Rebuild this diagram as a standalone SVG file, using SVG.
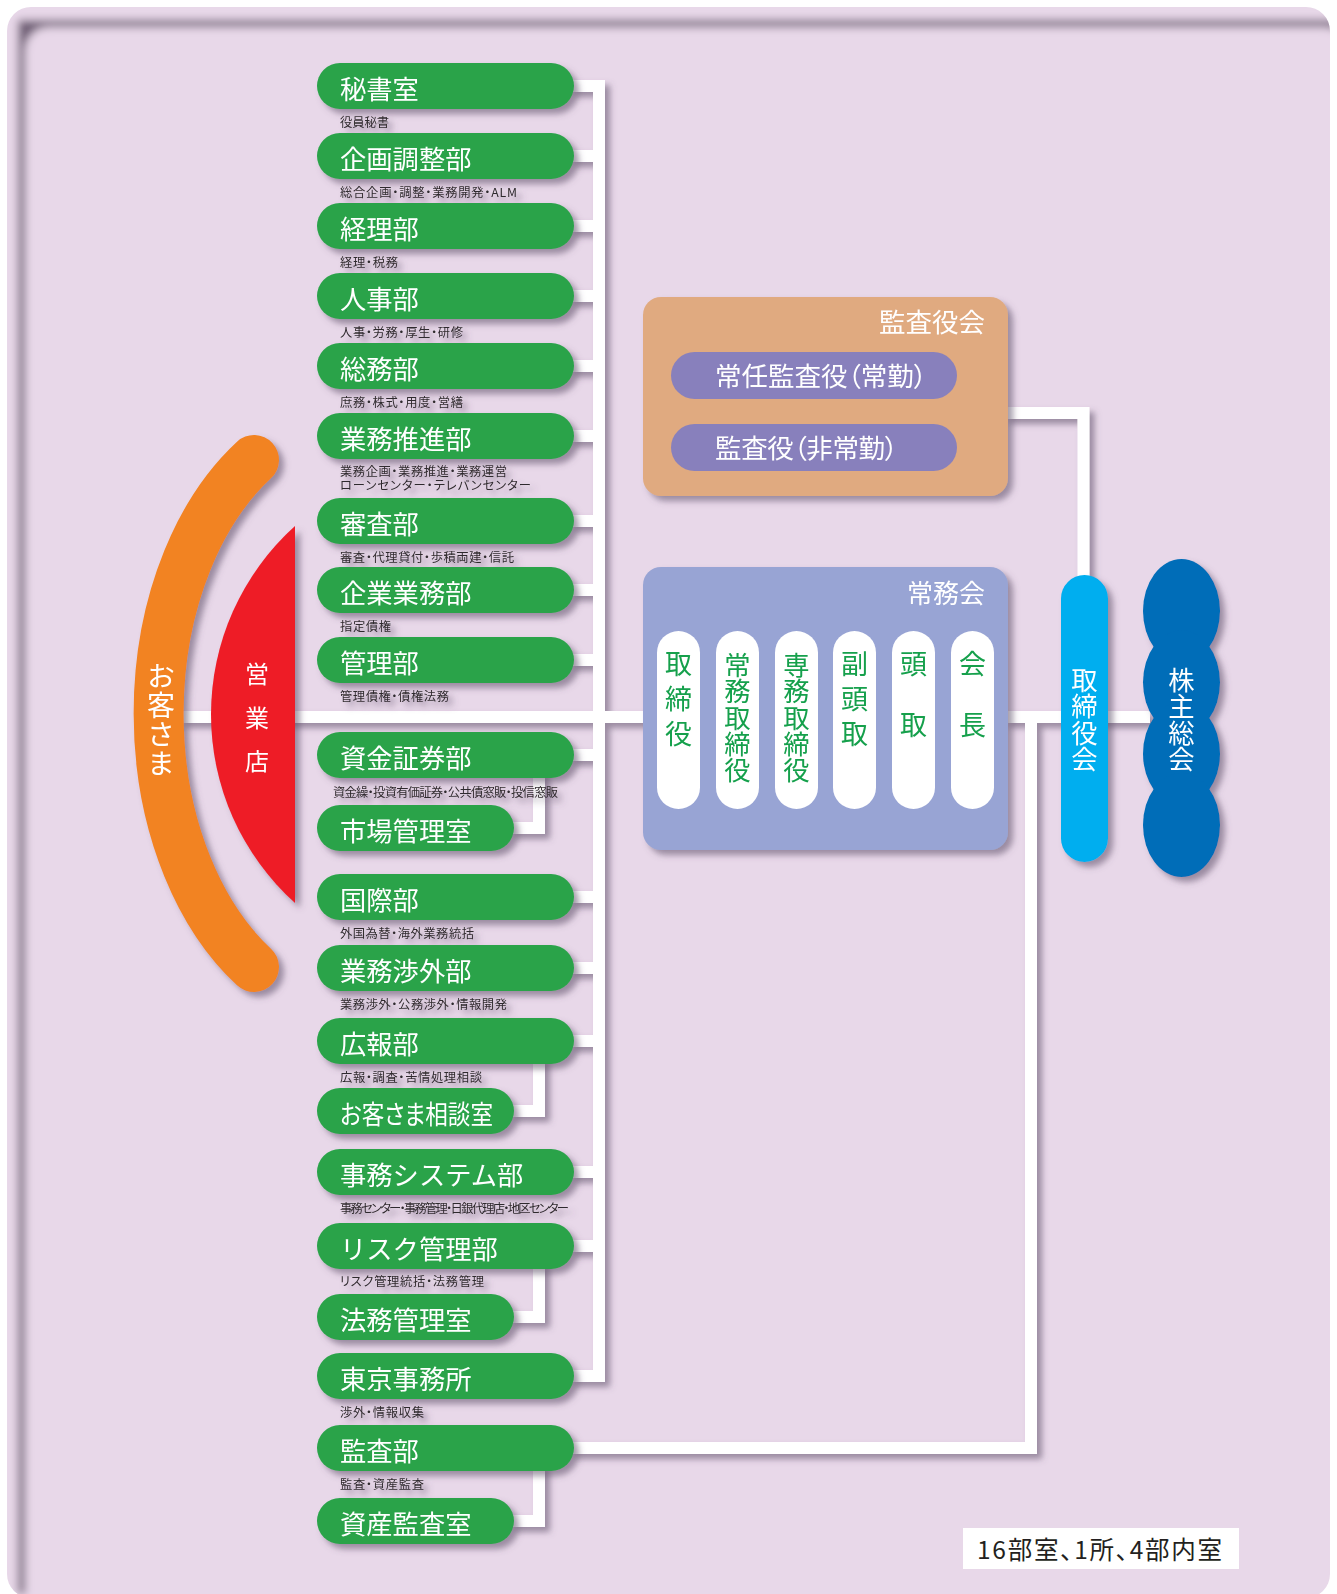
<svg xmlns="http://www.w3.org/2000/svg" width="1337" height="1594" viewBox="0 0 1337 1594">
<defs>
<style>
.pill{fill:#29a34a}
.pt{font-family:'Noto Sans CJK JP','Noto Sans',sans-serif;font-size:26.3px;fill:#ffffff}
.sub{font-family:'Noto Sans CJK JP','Noto Sans',sans-serif;font-size:12.3px;fill:#2f2a2d;font-feature-settings:"palt"}
.conn{fill:none;stroke:#ffffff;stroke-width:12;stroke-linejoin:miter}
.vt{font-family:'Noto Sans CJK JP','Noto Sans',sans-serif;font-size:26.3px;writing-mode:vertical-rl}
.gt{fill:#14a04c}
.wt{fill:#ffffff}
.ttl{font-family:'Noto Sans CJK JP','Noto Sans',sans-serif;font-size:26.5px;fill:#ffffff;text-anchor:end}
.kp{fill:#8880bc}
.kt{font-family:'Noto Sans CJK JP','Noto Sans',sans-serif;font-size:26.5px;fill:#ffffff;font-feature-settings:"palt"}
.wp{fill:#ffffff}
</style>
<filter id="sh" filterUnits="userSpaceOnUse" x="0" y="0" width="1337" height="1594">
<feGaussianBlur in="SourceAlpha" stdDeviation="3"/>
<feOffset dx="5" dy="5" result="b"/>
<feFlood flood-color="#5b4c66" flood-opacity="0.55"/>
<feComposite in2="b" operator="in"/>
<feMerge><feMergeNode/><feMergeNode in="SourceGraphic"/></feMerge>
</filter>
<filter id="inset" filterUnits="userSpaceOnUse" x="0" y="0" width="1337" height="1594">
<feFlood flood-color="#6f5f76" result="c"/>
<feComposite in="c" in2="SourceAlpha" operator="out" result="o"/>
<feOffset in="o" dx="18" dy="20"/>
<feGaussianBlur stdDeviation="4"/>
<feComposite in2="SourceAlpha" operator="in" result="s"/>
<feMerge><feMergeNode in="SourceGraphic"/><feMergeNode in="s"/></feMerge>
</filter>
</defs>

<g id="background">
<rect x="7" y="7" width="1323" height="1591" rx="24" fill="#e8d8e9" filter="url(#inset)"/>
</g>

<g id="connectors" filter="url(#sh)">
<path class="conn" d="M570 86 H599 V1376 H570"/>
<path class="conn" d="M570 156 H599 M570 226 H599 M570 296 H599 M570 366 H599 M570 436 H599 M570 521 H599 M570 590 H599 M570 660 H599 M570 755 H599 M570 897 H599 M570 968 H599 M570 1041 H599 M570 1172 H599 M570 1246 H599"/>
<path class="conn" d="M539 770 V828 H510"/>
<path class="conn" d="M539 1056 V1111 H510"/>
<path class="conn" d="M539 1261 V1317 H510"/>
<path class="conn" d="M539 1463 V1521 H510"/>
<path class="conn" d="M180 717 H645"/>
<path class="conn" d="M1004 717 H1150"/>
<path class="conn" d="M570 1448 H1031 V717"/>
<path class="conn" d="M1004 413 H1083.5 V580"/>
</g>

<g id="okyakusama" filter="url(#sh)">
<path d="M254 460 A205 300 0 0 0 254 967" fill="none" stroke="#f28322" stroke-width="50" stroke-linecap="round"/>
<text class="vt wt" x="161" y="662" style="font-size:28px;letter-spacing:1px">お客さま</text>
</g>

<g id="eigyoten" filter="url(#sh)">
<path d="M295 526 A253.5 253.5 0 0 0 295 903 Z" fill="#ee1c26"/>
<text class="vt wt" x="257" y="662" style="font-size:24px;letter-spacing:19.5px">営業店</text>
</g>

<g id="n-hisho" filter="url(#sh)"><rect class="pill" x="317" y="63" width="257" height="46" rx="23"/><text class="pt" x="340" y="98.5">秘書室</text><text class="sub" x="340" y="126.5" textLength="49">役員秘書</text></g>
<g id="n-kikaku" filter="url(#sh)"><rect class="pill" x="317" y="133" width="257" height="46" rx="23"/><text class="pt" x="340" y="168.5">企画調整部</text><text class="sub" x="340" y="196.5" textLength="177">総合企画・調整・業務開発・ALM</text></g>
<g id="n-keiri" filter="url(#sh)"><rect class="pill" x="317" y="203" width="257" height="46" rx="23"/><text class="pt" x="340" y="238.5">経理部</text><text class="sub" x="340" y="266.5" textLength="58">経理・税務</text></g>
<g id="n-jinji" filter="url(#sh)"><rect class="pill" x="317" y="273" width="257" height="46" rx="23"/><text class="pt" x="340" y="308.5">人事部</text><text class="sub" x="340" y="336.5" textLength="123">人事・労務・厚生・研修</text></g>
<g id="n-somu" filter="url(#sh)"><rect class="pill" x="317" y="343" width="257" height="46" rx="23"/><text class="pt" x="340" y="378.5">総務部</text><text class="sub" x="340" y="406.5" textLength="123">庶務・株式・用度・営繕</text></g>
<g id="n-gyomusuishin" filter="url(#sh)"><rect class="pill" x="317" y="413" width="257" height="46" rx="23"/><text class="pt" x="340" y="448.5">業務推進部</text><text class="sub" x="340" y="475.5" textLength="167">業務企画・業務推進・業務運営</text><text class="sub" x="340" y="489.5" textLength="191">ローンセンター・テレバンセンター</text></g>
<g id="n-shinsa" filter="url(#sh)"><rect class="pill" x="317" y="498" width="257" height="46" rx="23"/><text class="pt" x="340" y="533.5">審査部</text><text class="sub" x="340" y="561.5" textLength="174">審査・代理貸付・歩積両建・信託</text></g>
<g id="n-kigyo" filter="url(#sh)"><rect class="pill" x="317" y="567" width="257" height="46" rx="23"/><text class="pt" x="340" y="602.5">企業業務部</text><text class="sub" x="340" y="630.5" textLength="51">指定債権</text></g>
<g id="n-kanri" filter="url(#sh)"><rect class="pill" x="317" y="637" width="257" height="46" rx="23"/><text class="pt" x="340" y="672.5">管理部</text><text class="sub" x="340" y="700.5" textLength="109">管理債権・債権法務</text></g>
<g id="n-shikin" filter="url(#sh)"><rect class="pill" x="317" y="732" width="257" height="46" rx="23"/><text class="pt" x="340" y="767.5">資金証券部</text><text class="sub" x="333" y="796.5" textLength="225">資金繰・投資有価証券・公共債窓販・投信窓販</text></g>
<g id="n-shijo" filter="url(#sh)"><rect class="pill" x="317" y="805" width="197" height="46" rx="23"/><text class="pt" x="340" y="840.5">市場管理室</text></g>
<g id="n-kokusai" filter="url(#sh)"><rect class="pill" x="317" y="874" width="257" height="46" rx="23"/><text class="pt" x="340" y="909.5">国際部</text><text class="sub" x="340" y="937.5" textLength="134">外国為替・海外業務統括</text></g>
<g id="n-shogai" filter="url(#sh)"><rect class="pill" x="317" y="945" width="257" height="46" rx="23"/><text class="pt" x="340" y="980.5">業務渉外部</text><text class="sub" x="340" y="1008.5" textLength="167">業務渉外・公務渉外・情報開発</text></g>
<g id="n-koho" filter="url(#sh)"><rect class="pill" x="317" y="1018" width="257" height="46" rx="23"/><text class="pt" x="340" y="1053.5">広報部</text><text class="sub" x="340" y="1081.5" textLength="142">広報・調査・苦情処理相談</text></g>
<g id="n-sodan" filter="url(#sh)"><rect class="pill" x="317" y="1088" width="197" height="46" rx="23"/><text class="pt" x="340" y="1123.5" style="font-feature-settings:'palt'" textLength="153" lengthAdjust="spacingAndGlyphs">お客さま相談室</text></g>
<g id="n-jimu" filter="url(#sh)"><rect class="pill" x="317" y="1149" width="257" height="46" rx="23"/><text class="pt" x="340" y="1184.5">事務システム部</text><text class="sub" x="340" y="1212.5" textLength="229">事務センター・事務管理・日銀代理店・地区センター</text></g>
<g id="n-risk" filter="url(#sh)"><rect class="pill" x="317" y="1223" width="257" height="46" rx="23"/><text class="pt" x="340" y="1258.5">リスク管理部</text><text class="sub" x="340" y="1285.5" textLength="144">リスク管理統括・法務管理</text></g>
<g id="n-homu" filter="url(#sh)"><rect class="pill" x="317" y="1294" width="197" height="46" rx="23"/><text class="pt" x="340" y="1329.5">法務管理室</text></g>
<g id="n-tokyo" filter="url(#sh)"><rect class="pill" x="317" y="1353" width="257" height="46" rx="23"/><text class="pt" x="340" y="1388.5">東京事務所</text><text class="sub" x="340" y="1416.5" textLength="84">渉外・情報収集</text></g>
<g id="n-kansa" filter="url(#sh)"><rect class="pill" x="317" y="1425" width="257" height="46" rx="23"/><text class="pt" x="340" y="1460.5">監査部</text><text class="sub" x="340" y="1488.5" textLength="84">監査・資産監査</text></g>
<g id="n-shisan" filter="url(#sh)"><rect class="pill" x="317" y="1498" width="197" height="46" rx="23"/><text class="pt" x="340" y="1533.5">資産監査室</text></g>

<g id="kansayakukai" filter="url(#sh)">
<rect x="643" y="297" width="365" height="199" rx="18" fill="#e0aa80"/>
<text class="ttl" x="985" y="332">監査役会</text>
<rect class="kp" x="671" y="352" width="286" height="47" rx="23.5"/>
<text class="kt" x="715" y="386" textLength="212">常任監査役（常勤）</text>
<rect class="kp" x="671" y="424" width="286" height="47" rx="23.5"/>
<text class="kt" x="715" y="458" textLength="183">監査役（非常勤）</text>
</g>

<g id="jomukai" filter="url(#sh)">
<rect x="643" y="567" width="365" height="283" rx="18" fill="#98a4d4"/>
<text class="ttl" x="985" y="602.5" style="font-size:26px">常務会</text>
<rect class="wp" x="657" y="631" width="43" height="178" rx="21.5"/>
<rect class="wp" x="716" y="631" width="43" height="178" rx="21.5"/>
<rect class="wp" x="775" y="631" width="43" height="178" rx="21.5"/>
<rect class="wp" x="833" y="631" width="43" height="178" rx="21.5"/>
<rect class="wp" x="892" y="631" width="43" height="178" rx="21.5"/>
<rect class="wp" x="951" y="631" width="43" height="178" rx="21.5"/>
<text class="vt gt" x="678.5" y="650.5" style="font-size:27px;letter-spacing:8px">取締役</text>
<text class="vt gt" x="737.5" y="652">常務取締役</text>
<text class="vt gt" x="796.5" y="652">専務取締役</text>
<text class="vt gt" x="854.5" y="650.5" style="font-size:27px;letter-spacing:8px">副頭取</text>
<text class="vt gt" x="913.5" y="650.5" style="font-size:27px;letter-spacing:34px">頭取</text>
<text class="vt gt" x="972.5" y="650.5" style="font-size:27px;letter-spacing:34px">会長</text>
</g>

<g id="torishimariyakukai" filter="url(#sh)">
<rect x="1061" y="575" width="47" height="287" rx="23.5" fill="#00aeef"/>
<text class="vt wt" x="1084.5" y="667">取締役会</text>
</g>

<g id="kabunushisokai" filter="url(#sh)">
<g fill="#006db8">
<ellipse cx="1181.5" cy="611" rx="38.5" ry="52"/>
<ellipse cx="1181.5" cy="682.3" rx="38.5" ry="52"/>
<ellipse cx="1181.5" cy="753.7" rx="38.5" ry="52"/>
<ellipse cx="1181.5" cy="825" rx="38.5" ry="52"/>
</g>
<text class="vt wt" x="1181.5" y="667">株主総会</text>
</g>

<g id="note">
<rect x="963" y="1528" width="276" height="41" fill="#ffffff"/>
<text x="977" y="1559" style="font-family:'Noto Sans CJK JP','Noto Sans',sans-serif;font-size:24.5px;fill:#231f20;font-feature-settings:'palt'" textLength="245">16部室、1所、4部内室</text>
</g>
</svg>
